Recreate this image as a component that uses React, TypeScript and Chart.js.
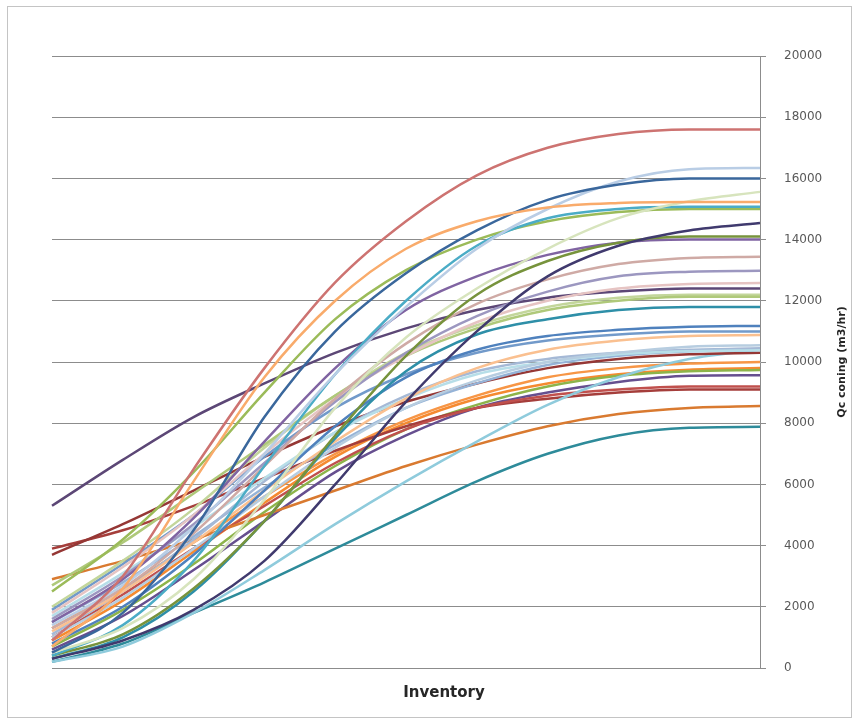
import React, { useEffect, useRef } from "react";
import { Chart, registerables } from "chart.js";

Chart.register(...registerables);

const inventoryLevels = ["1", "2", "3", "4", "5", "6", "7", "8", "9", "10", "11"];
const yTicks = [0, 2000, 4000, 6000, 8000, 10000, 12000, 14000, 16000, 18000, 20000];

const rose = [900, 3000, 6500, 9800, 12600, 14600, 16100, 17000, 17450, 17600, 17600];
const peachOrange = [700, 2600, 6100, 9500, 12000, 13700, 14600, 15050, 15200, 15230, 15230];
const darkBlue = [500, 1800, 4500, 8200, 11000, 12900, 14300, 15300, 15800, 16000, 16000];
const paleBlue = [1400, 2700, 4600, 7000, 9600, 11800, 13700, 15000, 15900, 16300, 16340];
const beige = [500, 1300, 2900, 5500, 8500, 10800, 12400, 13700, 14700, 15250, 15560];
const teal = [400, 1400, 3500, 6600, 9600, 12000, 13800, 14700, 15000, 15070, 15070];
const green = [2500, 4200, 6400, 9000, 11400, 13000, 14000, 14600, 14900, 15000, 15000];
const darkNavy = [300, 900, 1900, 3500, 6000, 8700, 11000, 12800, 13800, 14300, 14540];
const olive = [400, 1100, 2600, 4800, 7600, 10200, 12200, 13300, 13900, 14100, 14100];
const purple = [1500, 2900, 4900, 7400, 9800, 11700, 12800, 13500, 13900, 14000, 14000];
const mauve = [1300, 2600, 4400, 6600, 8800, 10600, 11900, 12700, 13200, 13400, 13440];
const lavender = [1600, 3000, 4700, 6700, 8700, 10300, 11500, 12300, 12800, 12950, 12980];
const lightPink = [1800, 3300, 5000, 7000, 8800, 10200, 11300, 12000, 12400, 12550, 12580];
const darkPurple = [5300, 6800, 8200, 9300, 10300, 11100, 11700, 12100, 12300, 12400, 12400];
const lightGreen = [2700, 4100, 5700, 7300, 8900, 10200, 11100, 11700, 12000, 12130, 12130];
const paleGreen = [2000, 3500, 5200, 7200, 8900, 10300, 11200, 11800, 12100, 12200, 12200];
const tealMid = [300, 1000, 2500, 4800, 7500, 9700, 10900, 11400, 11700, 11800, 11800];
const blue = [800, 2000, 3700, 5800, 7900, 9500, 10400, 10850, 11050, 11150, 11180];
const skyBlue = [1900, 3400, 5000, 6900, 8500, 9600, 10300, 10700, 10900, 11000, 11000];
const peach = [1200, 2500, 4100, 5800, 7400, 8800, 9800, 10400, 10700, 10850, 10880];
const blueGray = [1000, 2300, 3900, 5600, 7200, 8500, 9400, 10000, 10300, 10500, 10550];
const powderBlue = [1700, 3100, 4600, 6200, 7700, 8800, 9600, 10000, 10250, 10350, 10380];
const steelBlue = [1100, 2500, 4200, 6100, 7700, 8900, 9700, 10100, 10300, 10400, 10450];
const cornflower = [1500, 2800, 4300, 5900, 7300, 8500, 9300, 9900, 10200, 10350, 10400];
const darkRed = [3700, 4700, 5800, 6900, 7900, 8700, 9300, 9800, 10100, 10250, 10300];
const aqua = [200, 700, 1800, 3200, 4700, 6100, 7400, 8600, 9500, 10100, 10400];
const deepTeal = [200, 800, 1800, 2800, 3900, 5000, 6100, 7000, 7600, 7850, 7880];
const burntOrange = [2900, 3500, 4200, 5000, 5800, 6600, 7300, 7900, 8300, 8500, 8560];
const red = [1000, 2400, 3900, 5300, 6700, 7800, 8500, 8900, 9100, 9200, 9200];
const brickRed = [3900, 4500, 5300, 6200, 7100, 7900, 8500, 8800, 9000, 9100, 9100];
const grassGreen = [700, 1900, 3400, 5100, 6600, 7800, 8600, 9200, 9550, 9700, 9740];
const orange = [1300, 2600, 4100, 5600, 7000, 8100, 8900, 9500, 9800, 9950, 10000];
const amber = [900, 2200, 3800, 5400, 6900, 8000, 8800, 9300, 9600, 9750, 9800];
const violet = [600, 1700, 3200, 4800, 6400, 7600, 8500, 9000, 9350, 9550, 9570];

const seriesTable: [number[], string][] = [
  [rose, "#CD7371"],
  [peachOrange, "#F9AB6B"],
  [darkBlue, "#3A679C"],
  [paleBlue, "#B9CDE5"],
  [beige, "#D7E4BD"],
  [teal, "#4BACC6"],
  [green, "#9BBB59"],
  [darkNavy, "#403A6E"],
  [olive, "#77933C"],
  [purple, "#8064A2"],
  [mauve, "#CFAAA5"],
  [lavender, "#9C97C0"],
  [lightPink, "#E6C4C3"],
  [darkPurple, "#5C4776"],
  [lightGreen, "#AFC97A"],
  [paleGreen, "#C3D69B"],
  [tealMid, "#2E8FA8"],
  [blue, "#4F81BD"],
  [skyBlue, "#729ACA"],
  [peach, "#FAC090"],
  [blueGray, "#B7CDE0"],
  [powderBlue, "#B7DEE8"],
  [steelBlue, "#A5B9D6"],
  [cornflower, "#95B3D7"],
  [darkRed, "#953735"],
  [aqua, "#8FCBDC"],
  [deepTeal, "#2E8B9A"],
  [burntOrange, "#D97A30"],
  [red, "#C0504D"],
  [brickRed, "#A53E3B"],
  [grassGreen, "#8DB44A"],
  [orange, "#F79646"],
  [amber, "#F58A30"],
  [violet, "#664F8F"],
];

const titlePlugin = {
  id: "customTitles",
  afterDraw(chart: any) {
    const ctx = chart.ctx;
    ctx.save();
    ctx.fillStyle = "#262626";
    ctx.font = "bold 15px 'DejaVu Sans'";
    ctx.textAlign = "center";
    ctx.textBaseline = "middle";
    ctx.fillText("Inventory", 444, 693);
    ctx.translate(842, 362);
    ctx.rotate(-Math.PI / 2);
    ctx.font = "bold 11px 'DejaVu Sans'";
    ctx.fillText("Qc coning (m3/hr)", 0, 0);
    ctx.restore();
  },
};

export default function App() {
  const ref = useRef<HTMLCanvasElement>(null);
  useEffect(() => {
    if (!ref.current) return;
    const chart = new Chart(ref.current, {
      type: "line",
      data: {
        labels: inventoryLevels,
        datasets: seriesTable.map(([data, color], i) => ({
          label: "S" + (i + 1),
          data,
          borderColor: color,
          backgroundColor: color,
          borderWidth: 2.5,
          pointRadius: 0,
          fill: false,
          cubicInterpolationMode: "monotone" as const,
        })),
      },
      options: {
        responsive: false,
        animation: false,
        layout: { padding: { left: 52, top: 56, bottom: 52, right: 0 } },
        plugins: {
          legend: { display: false },
          tooltip: { enabled: false },
          title: { display: false },
        },
        scales: {
          x: { display: false, offset: false },
          y: {
            position: "right",
            min: 0,
            max: 20000,
            afterFit: (s: any) => {
              s.width = 94;
            },
            afterBuildTicks: (s: any) => {
              s.ticks = yTicks.map((v) => ({ value: v }));
            },
            ticks: {
              color: "#595959",
              font: { family: "'DejaVu Sans'", size: 12 },
              padding: 18,
              callback: (v: any) => String(v),
            },
            grid: { color: "#8C8C8C", lineWidth: 1, tickLength: 6 },
            border: { display: true, color: "#8C8C8C" },
          },
        },
      },
      plugins: [titlePlugin],
    });
    return () => chart.destroy();
  }, []);
  return (
    <div style={{ position: "absolute", left: 0, top: 0, width: 854, height: 720, background: "#fff" }}>
      <div
        style={{
          position: "absolute",
          left: 7,
          top: 6,
          width: 843,
          height: 710,
          border: "1px solid #C4C4C4",
        }}
      />
      <canvas ref={ref} width={854} height={720} style={{ position: "absolute", left: 0, top: 0 }} />
    </div>
  );
}
